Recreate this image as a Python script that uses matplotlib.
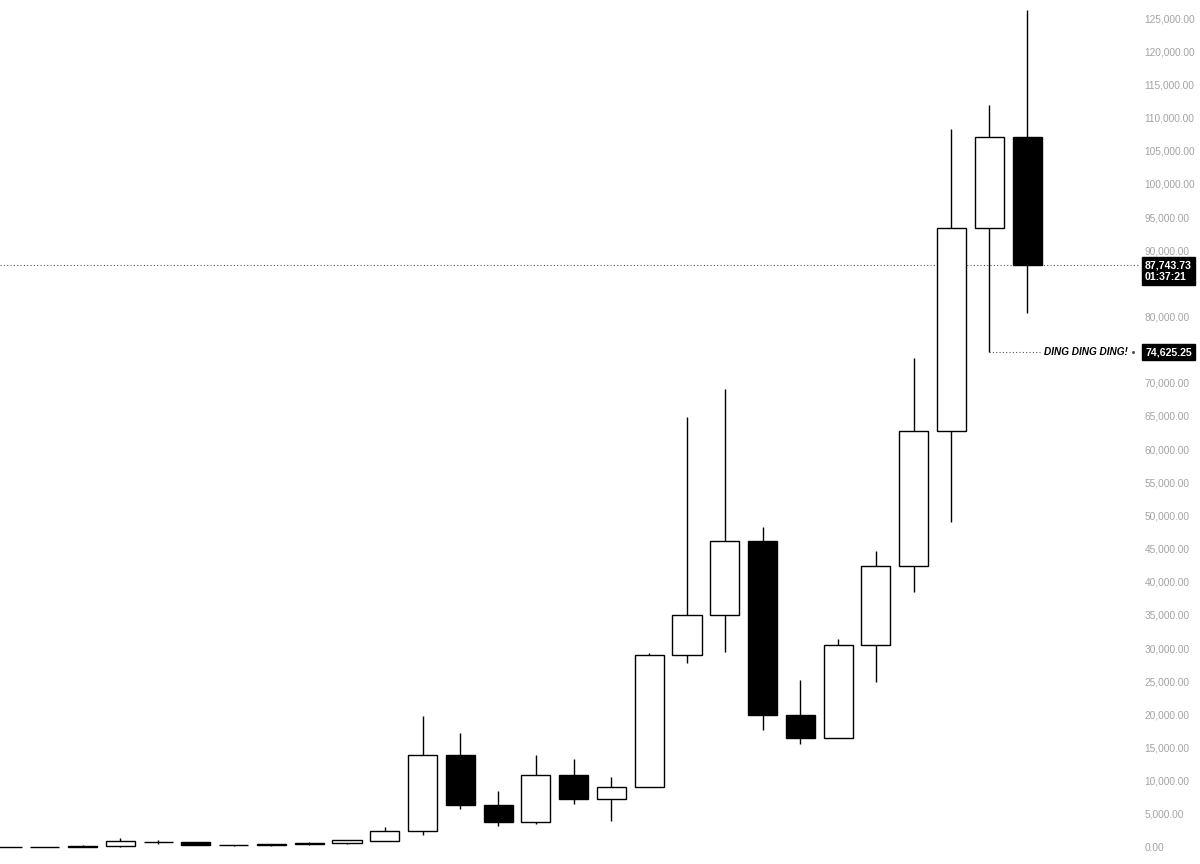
import matplotlib
matplotlib.use("Agg")
import matplotlib.pyplot as plt
import matplotlib.transforms as mtransforms
from matplotlib.ticker import FuncFormatter, MultipleLocator

# half-year candles, 2012 H1 .. 2025 H2 (USD)
periods = ["2012 H1", "2012 H2", "2013 H1", "2013 H2", "2014 H1", "2014 H2",
           "2015 H1", "2015 H2", "2016 H1", "2016 H2", "2017 H1", "2017 H2",
           "2018 H1", "2018 H2", "2019 H1", "2019 H2", "2020 H1", "2020 H2",
           "2021 H1", "2021 H2", "2022 H1", "2022 H2", "2023 H1", "2023 H2",
           "2024 H1", "2024 H2", "2025 H1", "2025 H2"]
opens = [5.3, 6.7, 13.5, 100, 800, 740,
         330, 265, 430, 670, 970, 2480,
         13900, 6400, 3700, 10800, 7200, 9100,
         29000, 35000, 46200, 19900, 16500, 30500,
         42300, 62700, 93400, 107100]
highs = [7.2, 16, 300, 1350, 1100, 760,
         330, 500, 780, 1080, 3000, 19800,
         17200, 8500, 13800, 13200, 10500, 29300,
         64900, 69000, 48200, 25200, 31400, 44700,
         73800, 108300, 111900, 126200]
lows = [4.4, 6.6, 13.3, 65, 450, 300,
        170, 200, 360, 470, 830, 1840,
        5800, 3200, 3400, 6500, 3900, 9000,
        27800, 29400, 17600, 15500, 16500, 24900,
        38500, 49000, 74625.25, 80500]
closes = [6.7, 13.5, 97, 850, 740, 330,
          270, 430, 670, 1000, 2480, 13900,
          6400, 3700, 10800, 7200, 9100, 29000,
          35000, 46200, 19900, 16500, 30500, 42300,
          62700, 93400, 107100, 87743.73]

last_price = 87743.73
countdown = "01:37:21"
ding_price = 74625.25
ding_text = "DING DING DING!"
hidden_ticks = [85000, 75000]  # covered by the price labels

fig = plt.figure(figsize=(12, 8.64), dpi=100)
ax = fig.add_axes([0, 0, 1134 / 1200, 1])

for i in range(len(periods)):
    o, h, l, c = opens[i], highs[i], lows[i], closes[i]
    ax.vlines(i, l, h, color="black", lw=1, zorder=1)
    up = c >= o
    ax.bar(i, abs(c - o), bottom=min(o, c), width=0.77,
           color="white" if up else "black", edgecolor="black", lw=1, zorder=2)

ax.set_xlim(-0.185, -0.185 + 1134 / 37.78)
ax.set_ylim(-17 * 150.8, 847 * 150.8)


def fmt(v, pos):
    if round(v) in hidden_ticks:
        return ""
    return f"{v:,.2f}"


ax.yaxis.tick_right()
ax.yaxis.set_major_locator(MultipleLocator(5000))
ax.yaxis.set_major_formatter(FuncFormatter(fmt))
ax.tick_params(axis="y", length=0, pad=7.5, labelsize=7.3, labelcolor="#a3a3a3")
for lab in ax.get_yticklabels():
    lab.set_fontfamily("Liberation Sans")
ax.set_xticks([])
for s in ax.spines.values():
    s.set_visible(False)

# last price line and label
ax.axhline(last_price, color="#555555", lw=0.8, ls=(0, (1, 2)), zorder=0, clip_on=False,
           xmax=1138 / 1134)
trans = mtransforms.blended_transform_factory(fig.transFigure, ax.transData)
lab_tr = trans + mtransforms.ScaledTranslation(0, 5 / 72 * 0.72, fig.dpi_scale_trans)
ax.text(1145 / 1200, last_price, f"{last_price:,.2f}\n{countdown}", transform=lab_tr,
        ha="left", va="top", color="white", fontsize=7.6, fontweight="bold",
        family="Liberation Sans", linespacing=1.25, clip_on=False,
        bbox=dict(boxstyle="square,pad=0.3", fc="black", ec="black"))

# annotation at the low
low_i = lows.index(ding_price)
ax.plot([low_i, 1040 / 37.78 - 0.185], [ding_price, ding_price], color="#555555",
        lw=0.8, ls=(0, (1, 2)), zorder=0)
ax.text(1128 / 1200, ding_price, ding_text, transform=trans, ha="right", va="center",
        fontsize=7.2, fontstyle="italic", fontweight="bold", family="Liberation Sans",
        color="black", clip_on=False)
ax.plot([1133 / 1200], [ding_price], transform=trans, marker="o", ms=1.2, color="#555555",
        clip_on=False)
ax.text(1145 / 1200, ding_price, f"{ding_price:,.2f}", transform=trans, ha="left",
        va="center", color="white", fontsize=7.6, fontweight="bold",
        family="Liberation Sans", clip_on=False,
        bbox=dict(boxstyle="square,pad=0.3", fc="black", ec="black"))

fig.savefig("out.png", dpi=100, facecolor="white")
